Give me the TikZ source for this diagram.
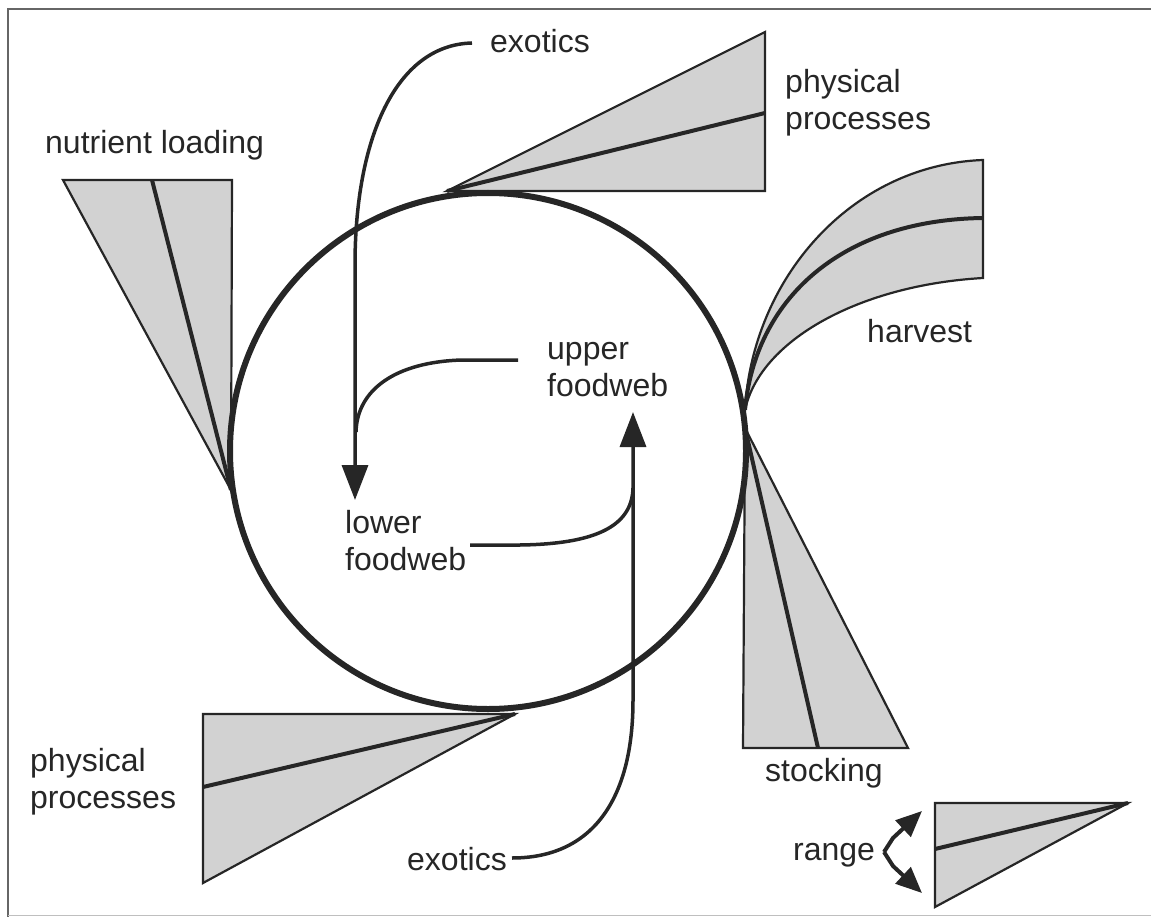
\documentclass[tikz,border=0pt]{standalone}
\usepackage{fontspec}
\setmainfont{Liberation Sans}
\usetikzlibrary{arrows.meta}
\definecolor{ink}{HTML}{262626}
\definecolor{shade}{HTML}{D2D2D2}
\tikzset{
  lbl/.style={anchor=base west, inner sep=0pt, text=ink, align=left, font=\fontsize{32}{37}\selectfont},
  wedge/.style={draw=ink, fill=shade, line width=2.2pt, line join=miter},
  midline/.style={draw=ink, line width=4pt},
  flow/.style={draw=ink, line width=3.5pt, -{Triangle[length=35pt,width=26pt]}},
  flowplain/.style={draw=ink, line width=3.5pt},
  ring/.style={draw=ink, line width=6pt},
  rangearrow/.style={draw=ink, line width=4pt, -{Triangle[length=26pt,width=22pt]}},
  frameline/.style={draw=black!60, line width=1.2pt}
}
\begin{document}
\begin{tikzpicture}[x=1pt,y=-1pt]
\useasboundingbox (0,0) rectangle (1151,917);
% frame
\draw[frameline] (1151,9) -- (8,9) -- (8,917);
\draw[draw=black!25, line width=1pt] (8,915) -- (1151,915);

% nutrient loading wedge
\coordinate (nlT) at (231,490);
\coordinate (nlA) at (63,180);
\coordinate (nlB) at (232,180);
\coordinate (nlM) at (152,180);
\draw[wedge] (nlT) -- (nlA) -- (nlB) -- cycle;
\draw[midline] (nlT) -- (nlM);

% top physical processes wedge
\coordinate (ppT) at (447,191);
\coordinate (ppA) at (765,32);
\coordinate (ppB) at (765,191);
\coordinate (ppM) at (765,113);
\draw[wedge] (ppT) -- (ppA) -- (ppB) -- cycle;
\draw[midline] (ppT) -- (ppM);

% harvest band
\coordinate (hvT) at (745,410);
\coordinate (hvA) at (983,160);
\coordinate (hvB) at (983,278);
\coordinate (hvM) at (983,218);
\draw[wedge] (hvT) .. controls (752,280) and (850,165) .. (hvA) -- (hvB)
  .. controls (860,285) and (760,340) .. (hvT) -- cycle;
\draw[midline] (hvT) .. controls (755,300) and (840,220) .. (hvM);

% stocking wedge
\coordinate (stT) at (745,428);
\coordinate (stA) at (743,748);
\coordinate (stB) at (908,748);
\coordinate (stM) at (818,748);
\draw[wedge] (stT) -- (stA) -- (stB) -- cycle;
\draw[midline] (stT) -- (stM);

% bottom physical processes wedge
\coordinate (pbT) at (515,714);
\coordinate (pbA) at (203,714);
\coordinate (pbB) at (203,883);
\coordinate (pbM) at (203,787);
\draw[wedge] (pbT) -- (pbA) -- (pbB) -- cycle;
\draw[midline] (pbT) -- (pbM);

% range legend wedge
\coordinate (rgT) at (1128,803);
\coordinate (rgA) at (935,803);
\coordinate (rgB) at (935,907);
\coordinate (rgM) at (935,849);
\draw[wedge] (rgT) -- (rgA) -- (rgB) -- cycle;
\draw[midline] (rgT) -- (rgM);

% main circle
\node[ring, circle, minimum size=516pt, inner sep=0pt] (ring) at (488,451) {};

% labels (base = baseline of last line)
\node[lbl] (nutr) at (45,154) {nutrient loading};
\node[lbl] (exoTop) at (490,53) {exotics};
\node[lbl] (physTop) at (785,130) {physical\\processes};
\node[lbl] (harv) at (867,342) {harvest};
\node[lbl] (upper) at (547,396) {upper\\foodweb};
\node[lbl] (lower) at (345,570) {lower\\foodweb};
\node[lbl] (physBot) at (30,808) {physical\\processes};
\node[lbl] (exoBot) at (407,870) {exotics};
\node[lbl] (stock) at (765,781) {stocking};
\node[lbl] (range) at (793,860) {range};

% flow connectors
\coordinate (exoTopEnd) at (472,43);
\coordinate (lowTip) at (355,500);
\coordinate (upStart) at (518,360);
\coordinate (joinL) at (356,432);
\coordinate (exoBotEnd) at (512,858);
\coordinate (upTip) at (633,412);
\coordinate (lowStart) at (470,545);
\coordinate (joinR) at (633,488);

\draw[flow] (exoTopEnd) .. controls (395,45) and (355,140) .. (355,265) -- (lowTip);
\draw[flowplain] (upStart) -- (462,360) .. controls (395,362) and (357,390) .. (joinL);
\draw[flow] (exoBotEnd) .. controls (592,858) and (633,800) .. (633,700) -- (upTip);
\draw[flowplain] (lowStart) -- (520,545) .. controls (592,544) and (632,528) .. (joinR);

% range arrows
\coordinate (rgV) at (884,852);
\coordinate (rgUp) at (922,811);
\coordinate (rgDn) at (922,893);
\draw[rangearrow] (rgV) -- (893,838) -- (rgUp);
\draw[rangearrow] (rgV) -- (893,866) -- (rgDn);
\end{tikzpicture}
\end{document}
